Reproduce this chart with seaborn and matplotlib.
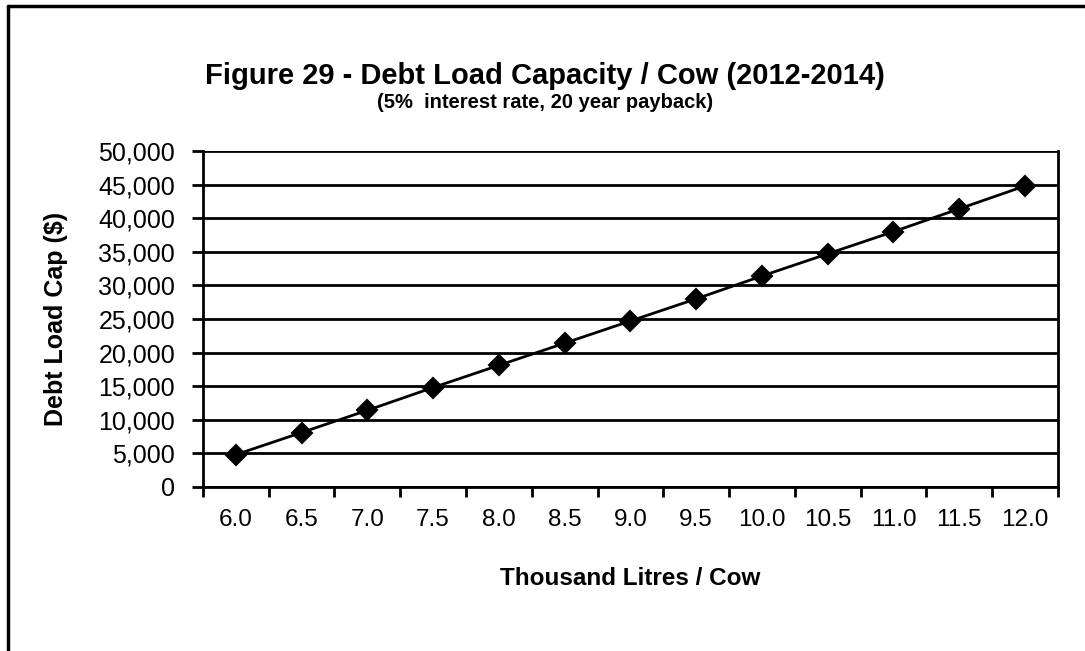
import numpy as np
import pandas as pd
import seaborn as sns
import matplotlib.pyplot as plt
from matplotlib.lines import Line2D
from matplotlib import font_manager

# data
litres = ["6.0", "6.5", "7.0", "7.5", "8.0", "8.5", "9.0",
          "9.5", "10.0", "10.5", "11.0", "11.5", "12.0"]
debt_cap = [4800, 8100, 11400, 14800, 18100, 21400, 24700,
            28000, 31400, 34700, 38000, 41400, 44800]
y_ticks = list(range(0, 50001, 5000))

df = pd.DataFrame({"litres": litres, "debt": debt_cap})

sns.set_theme(style="white")
names = {f.name for f in font_manager.fontManager.ttflist}
narrow = "Liberation Sans Narrow" if "Liberation Sans Narrow" in names else "Liberation Sans"
plt.rcParams["font.family"] = ["Liberation Sans", "DejaVu Sans"]
plt.rcParams["text.color"] = "black"
plt.rcParams["axes.labelcolor"] = "black"
plt.rcParams["xtick.color"] = "black"
plt.rcParams["ytick.color"] = "black"

fig = plt.figure(figsize=(10.85, 6.51), dpi=100)
ax = fig.add_axes([0.187, 0.252, 0.788, 0.516])

sns.pointplot(data=df, x="litres", y="debt", color="black", markers="D",
              markersize=10, linewidth=2, ax=ax, order=litres)

ax.set_xlim(-0.5, len(litres) - 0.5)
ax.set_ylim(0, 50000)
ax.set_yticks(y_ticks)
ax.set_yticklabels([f"{v:,}" for v in y_ticks], fontsize=18)
ax.grid(axis="y", color="black", linewidth=2)
ax.set_axisbelow(True)

# category ticks sit between categories, labels at centres
ax.set_xticks(range(len(litres)))
ax.set_xticklabels(litres, fontsize=17.5)
ax.set_xticks(np.arange(-0.5, len(litres), 1), minor=True)
ax.tick_params(axis="x", which="major", length=0, pad=16)
ax.tick_params(axis="x", which="minor", length=7, width=2, color="black",
               direction="out", bottom=True)
ax.tick_params(axis="y", length=8, width=2, color="black", left=True,
               direction="out", pad=12)

for side in ["left", "bottom", "right"]:
    ax.spines[side].set_color("black")
    ax.spines[side].set_linewidth(2)
ax.spines["top"].set_visible(False)

ax.set_xlabel("Thousand Litres / Cow", fontsize=17.5, fontweight="bold",
              labelpad=26)
ax.set_ylabel("Debt Load Cap ($)", fontsize=18, fontweight="bold",
              labelpad=22)

fig.text(0.502, 0.883, "Figure 29 - Debt Load Capacity / Cow (2012-2014)",
         ha="center", va="center", fontsize=21, fontweight="bold",
         family=[narrow, "DejaVu Sans"])
fig.text(0.502, 0.843, "(5%  interest rate, 20 year payback)",
         ha="center", va="center", fontsize=14.5, fontweight="bold",
         family=[narrow, "DejaVu Sans"])

# outer frame (left and top edges)
fig.add_artist(Line2D([0.0075, 0.0075], [0, 0.991], color="black", lw=2.5,
                      transform=fig.transFigure))
fig.add_artist(Line2D([0.0075, 1.0], [0.991, 0.991], color="black", lw=2.5,
                      transform=fig.transFigure))

fig.savefig("out.png", dpi=100, facecolor="white")
